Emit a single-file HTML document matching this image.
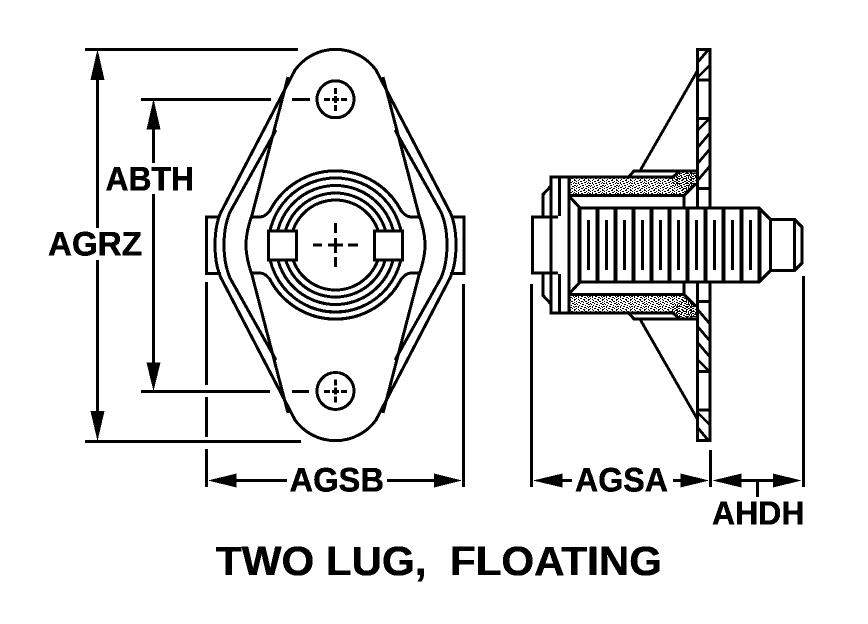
<!DOCTYPE html>
<html>
<head>
<meta charset="utf-8">
<title>Two Lug, Floating</title>
<style>
html,body{margin:0;padding:0;background:#fff;width:868px;height:624px;overflow:hidden}
svg{display:block}
text{font-family:"Liberation Sans",Arial,sans-serif;font-weight:bold;fill:#000;stroke:#000;stroke-width:0.5}
</style>
</head>
<body>
<svg xmlns="http://www.w3.org/2000/svg" width="868" height="624" viewBox="0 0 868 624">
<defs>
<filter id="bin" filterUnits="userSpaceOnUse" x="0" y="0" width="868" height="624" color-interpolation-filters="sRGB">
  <feComponentTransfer>
    <feFuncR type="discrete" tableValues="0 1"/>
    <feFuncG type="discrete" tableValues="0 1"/>
    <feFuncB type="discrete" tableValues="0 1"/>
  </feComponentTransfer>
</filter>
<pattern id="st" width="14" height="10" patternUnits="userSpaceOnUse">
<g fill="#000">
<rect x="0" y="0" width="2" height="1"/><rect x="4" y="0" width="1" height="1"/><rect x="9" y="0" width="2" height="1"/>
<rect x="2" y="1" width="1" height="1"/><rect x="6" y="1" width="2" height="1"/><rect x="12" y="1" width="1" height="1"/>
<rect x="0" y="2" width="1" height="1"/><rect x="4" y="2" width="1" height="2"/><rect x="10" y="2" width="2" height="1"/>
<rect x="7" y="3" width="2" height="1"/><rect x="13" y="3" width="1" height="1"/><rect x="1" y="3" width="2" height="1"/>
<rect x="5" y="4" width="1" height="1"/><rect x="11" y="4" width="1" height="1"/>
<rect x="0" y="5" width="2" height="1"/><rect x="3" y="5" width="1" height="1"/><rect x="8" y="5" width="2" height="1"/>
<rect x="6" y="6" width="1" height="1"/><rect x="12" y="6" width="2" height="1"/><rect x="2" y="6" width="1" height="1"/>
<rect x="4" y="7" width="2" height="1"/><rect x="9" y="7" width="1" height="1"/><rect x="0" y="7" width="1" height="1"/>
<rect x="2" y="8" width="1" height="1"/><rect x="7" y="8" width="2" height="1"/><rect x="11" y="8" width="2" height="1"/>
<rect x="0" y="9" width="1" height="1"/><rect x="5" y="9" width="1" height="1"/><rect x="10" y="9" width="1" height="1"/>
</g>
</pattern>
<pattern id="st2" href="#st" patternTransform="translate(5,3)"/>
<g id="half" fill="none" stroke="#000" stroke-width="3">
  <!-- flange -->
  <path d="M697.500 208V49.500H710V208"/>
  <path d="M697.500 80H710M697.500 118.500H710M697.500 188.500H710"/>
  <path stroke-width="2.800" d="M698 62L708 50M698 77L710 65M698 130L710 118M698 147L710 133M698 163L710 149M698 180L710 166"/>
  <!-- strut -->
  <path stroke-width="2.800" d="M697 71.500L640.500 170"/>
  <!-- collar and stippled fill -->
  <path d="M628 177.500L634 171H697"/>
  <polygon points="570,178 672,178 678,172 696,172 696,183 685,195 570,195" fill="url(#st)" stroke="none"/>
  <polygon points="668,178 678,172 696,172 696,183 685,194" fill="url(#st2)" stroke="none"/>
  <path d="M551 245V177H673L679 171.500"/>
  <path d="M569 177V208M569 196L580 208M569 195.500H684L696 183.500M684 195.500V208"/>
  <path d="M559.500 177V216" stroke-width="2.600"/>
  <!-- head chamfer and end piece -->
  <path d="M558 217H532.500V245M543 217V194.500L551 186"/>
  <!-- threaded body -->
  <path d="M569 208V245M579.500 208H759L770.500 219.500H794.500L802 227V245M794.500 219.500V245M770.500 219.500V245"/>
  <path stroke-width="3.500" d="M579.500 208V245M597.500 208V245M615.500 208V245M633.500 208V245M651.500 208V245M669.500 208V245M687.500 208V245M705.500 208V245M723.500 208V245M741.500 208V245M759.500 208V245"/>
  <path d="M588.500 220V245M606.500 220V245M624.500 220V245M642.500 220V245M660.500 220V245M678.500 220V245M696.500 220V245M714.500 220V245M732.500 220V245M750.500 220V245"/>
</g>
</defs>

<g filter="url(#bin)">
<rect width="868" height="624" fill="#fff"/>

<!-- Left view -->
<g fill="none" stroke="#000" stroke-width="3">
  <path d="M295 70A50 50 0 0 1 376 70L450 212Q456 225 456 245Q456 265 450 278L376 420A50 50 0 0 1 295 420L221 278Q215 265 215 245Q215 225 221 212Z"/>
  <path d="M276 130L230 212Q224 226 224 245Q224 264 230 278L276 360"/>
  <path d="M395 130L441 212Q447 226 447 245Q447 264 441 278L395 360"/>
  <path d="M288 77L252 215Q246 232 246 245Q246 258 252 275L288 413"/>
  <path d="M383 77L419 215Q425 232 425 245Q425 258 419 275L383 413"/>
  <!-- tabs -->
  <path d="M219 217H206.500V273.500H221"/>
  <path d="M452 217H464V273.500H450"/>
  <!-- body lines to outer ring -->
  <path d="M252 217H260Q265 217 270 210.500A74 74 0 0 1 401 210.500Q406 217 411 217H419"/>
  <path d="M252 273H260Q265 273 270 279.500A74 74 0 0 0 401 279.500Q406 273 411 273H419"/>
  <circle cx="335.500" cy="245" r="67"/>
  <circle cx="335.500" cy="245" r="59.500"/>
  <circle cx="335.500" cy="245" r="52"/>
  <circle cx="335.500" cy="245" r="45"/>
  <rect x="268.500" y="231" width="28" height="29" fill="#fff"/>
  <rect x="374.500" y="231" width="28" height="29" fill="#fff"/>
  <!-- center marks -->
  <path d="M313 245H322M328 245H343M348 245H358M335.500 223V233M335.500 238V253M335.500 257V267"/>
  <!-- screws -->
  <circle cx="335.500" cy="99.300" r="18.500"/>
  <circle cx="335.500" cy="391" r="18.500"/>
  <path stroke-width="2.600" d="M324 99.500H330M332 99.500H339M341 99.500H347M335.500 88V94M335.500 96V103M335.500 105V111"/>
  <path stroke-width="2.600" d="M324 391.500H330M332 391.500H339M341 391.500H347M335.500 379.500V385.500M335.500 387.500V394.500M335.500 396.500V402.500"/>
</g>

<!-- Right view -->
<use href="#half"/>
<use href="#half" transform="translate(0,490) scale(1,-1)"/>

<!-- Dimension lines -->
<g fill="none" stroke="#000" stroke-width="3">
  <path d="M85 49.500H298M85 441.500H301M141 99.500H271M292 99.500H310M141 391.500H270M292 391.500H309"/>
  <path d="M97.500 75V228M97.500 260V415M153.500 125V163M153.500 194V366"/>
  <path d="M206.500 282V385M206.500 397V437M206.500 449V487M463.500 284V487"/>
  <path d="M531.500 284V487M710.500 450V487M803.500 276V487"/>
  <path d="M230 480.500H287M387 480.500H440M555 480.500H572M673 480.500H690M735 480.500H780M757.500 480V497"/>
</g>
<g fill="#000">
  <polygon points="97.500,49 90.500,80 104.500,80"/>
  <polygon points="97.500,441 90.500,411 104.500,411"/>
  <polygon points="153.500,99 146.500,129.500 160.500,129.500"/>
  <polygon points="153.500,391 146.500,362.500 160.500,362.500"/>
  <polygon points="208,480.500 236.500,473.500 236.500,487.500"/>
  <polygon points="462,480.500 434,473.500 434,487.500"/>
  <polygon points="533,480.500 562.500,473.500 562.500,487.500"/>
  <polygon points="709,480.500 680.500,473.500 680.500,487.500"/>
  <polygon points="712.500,480.500 741.500,473.500 741.500,487.500"/>
  <polygon points="801.500,480.500 773,473.500 773,487.500"/>
</g>

<!-- Labels -->
<text x="105.500" y="190.500" font-size="34" textLength="88.500" lengthAdjust="spacingAndGlyphs">ABTH</text>
<text x="48" y="255.500" font-size="34" textLength="94" lengthAdjust="spacingAndGlyphs">AGRZ</text>
<text x="289.500" y="491.500" font-size="34" textLength="94.500" lengthAdjust="spacingAndGlyphs">AGSB</text>
<text x="575" y="491.500" font-size="34" textLength="93" lengthAdjust="spacingAndGlyphs">AGSA</text>
<text x="712" y="524.500" font-size="33" textLength="92.500" lengthAdjust="spacingAndGlyphs">AHDH</text>
<text x="216" y="575" font-size="41" textLength="446" lengthAdjust="spacingAndGlyphs" xml:space="preserve">TWO LUG,  FLOATING</text>
</g>
</svg>
</body>
</html>
